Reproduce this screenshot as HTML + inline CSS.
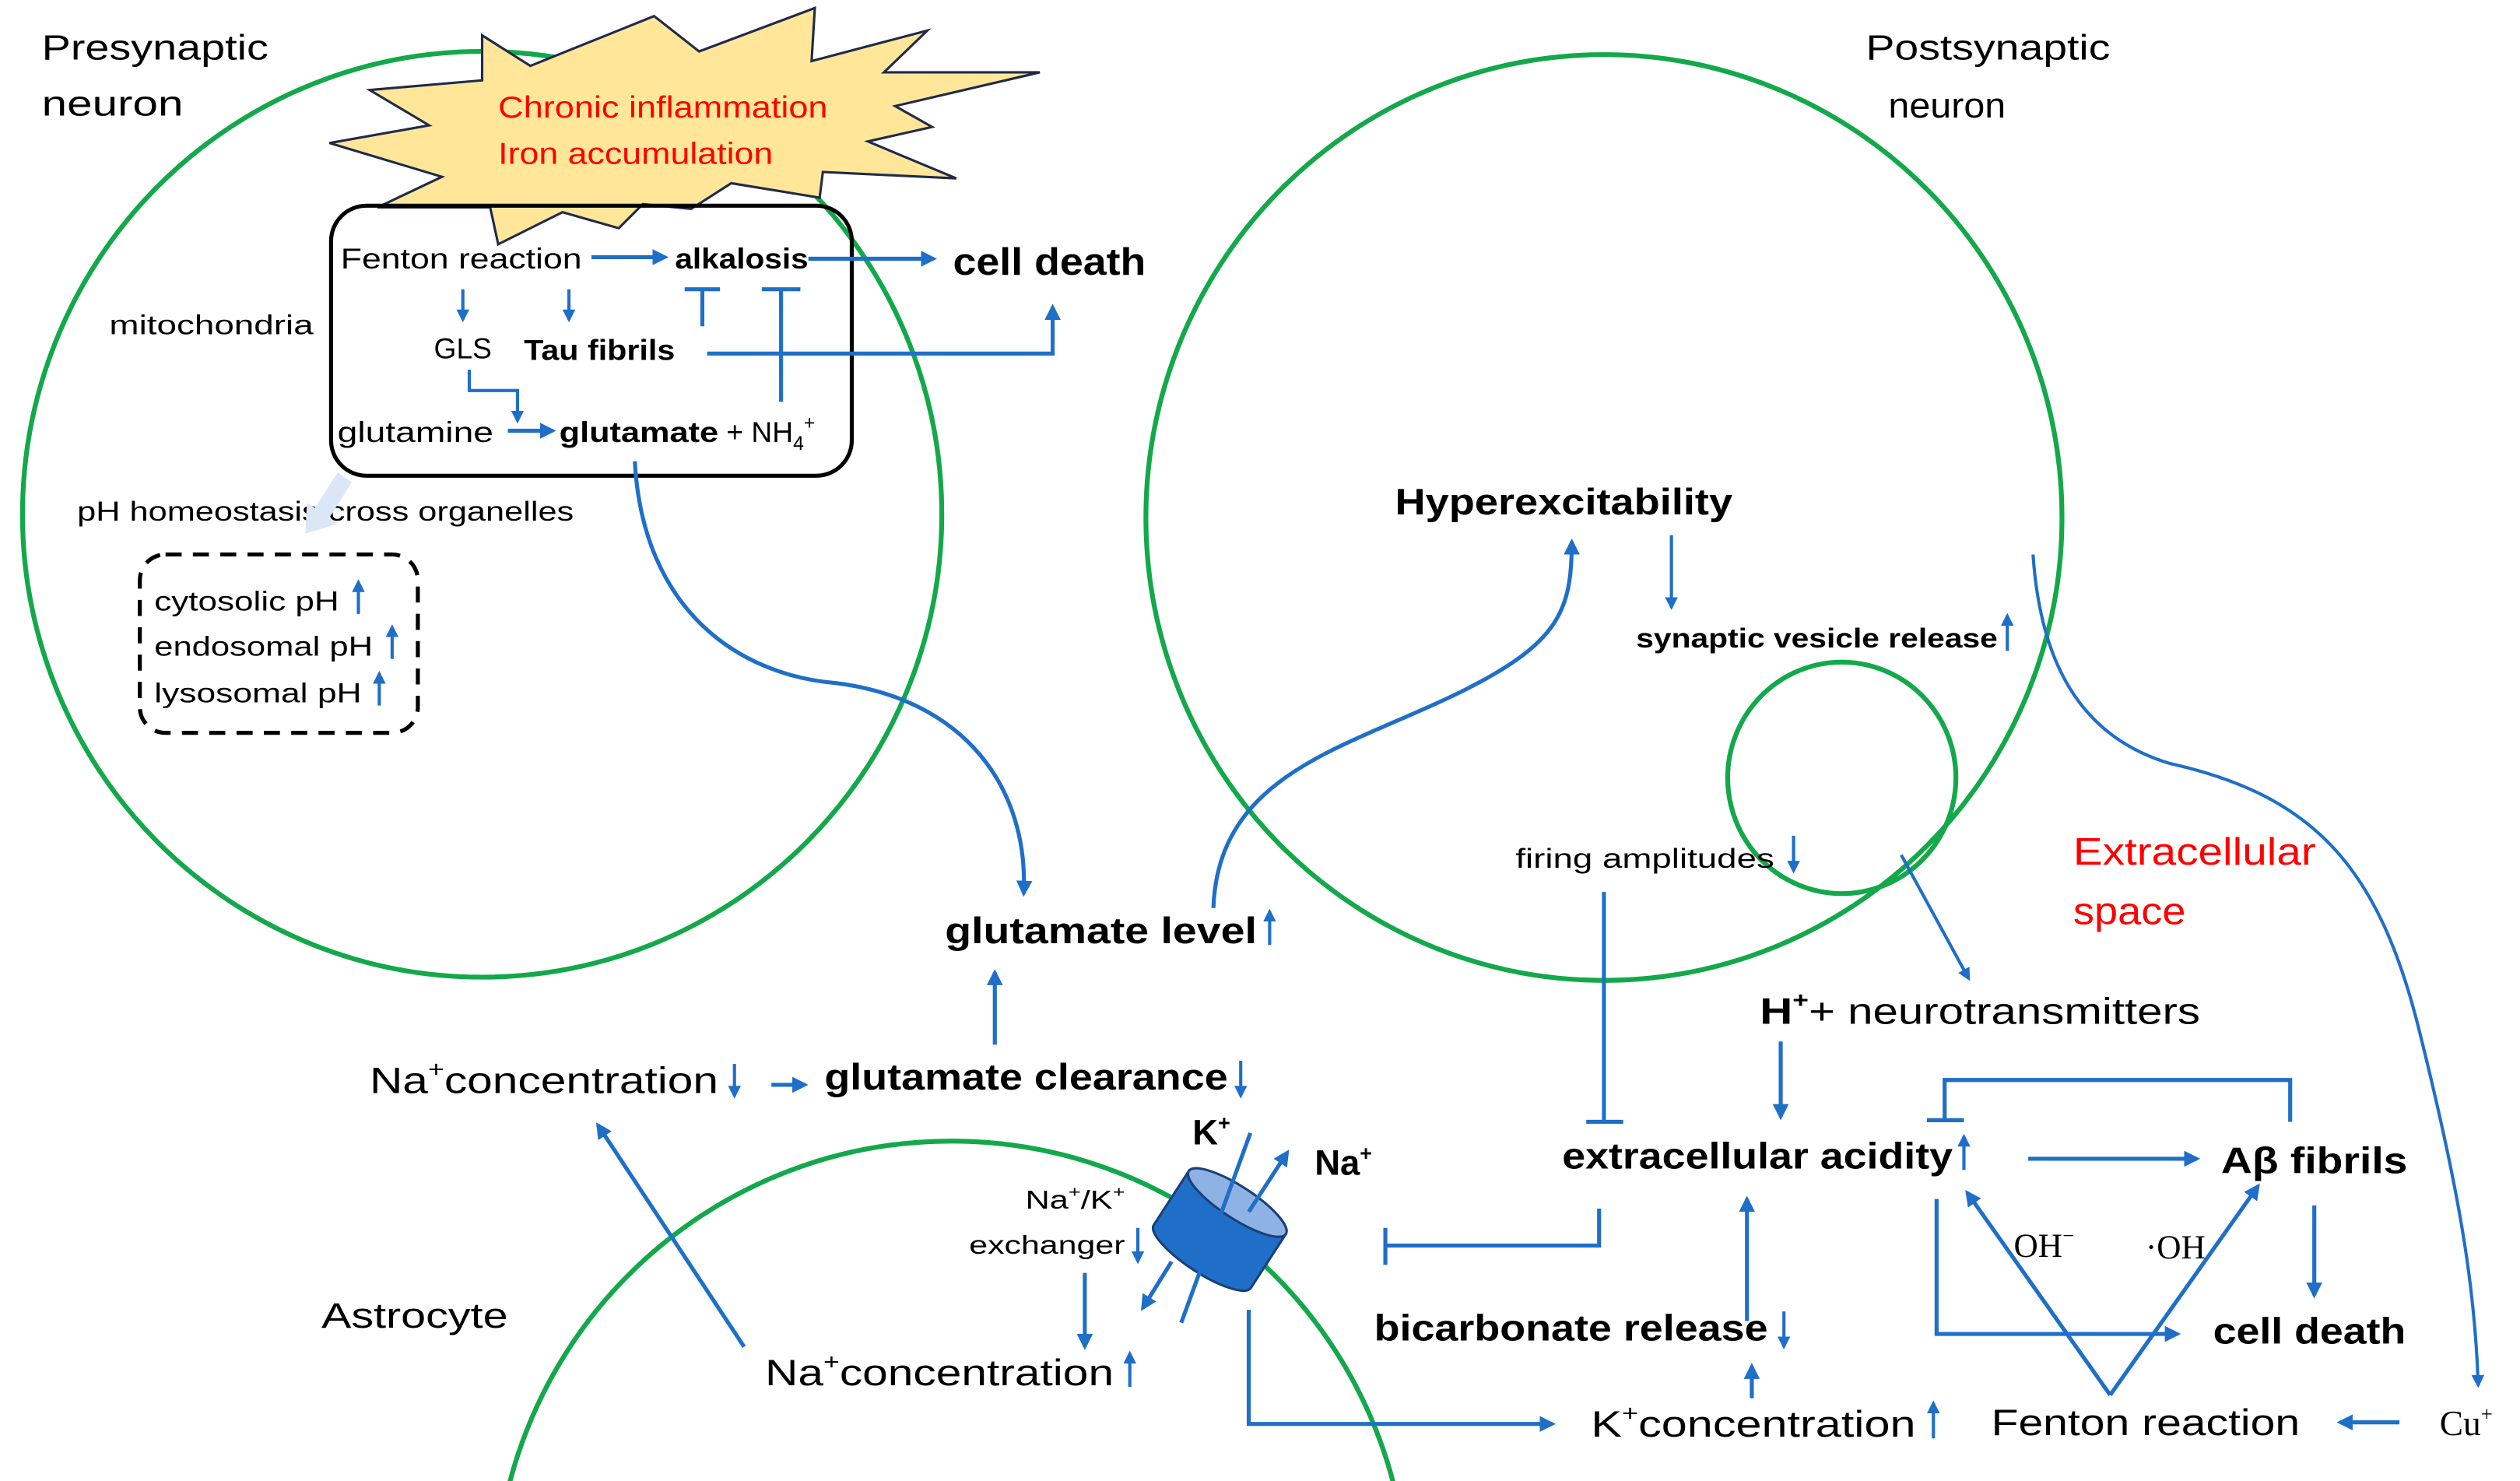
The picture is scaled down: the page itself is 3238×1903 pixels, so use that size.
<!DOCTYPE html>
<html><head><meta charset="utf-8"><style>
html,body{margin:0;padding:0;background:#fff;overflow:hidden;width:3238px;height:1903px;}
svg{display:block;}
text{font-family:"Liberation Sans",sans-serif;fill:#000;}
.b{font-weight:bold;}
.serif{font-family:"Liberation Serif",serif;}
</style></head><body>
<svg width="3238" height="1903" viewBox="0 0 1568 921.5" preserveAspectRatio="none" xmlns="http://www.w3.org/2000/svg">
<defs>
<marker id="a" viewBox="0 0 10 10" refX="8" refY="5" markerWidth="4" markerHeight="4" orient="auto" markerUnits="strokeWidth">
<path d="M0,0 L10,5 L0,10 z" fill="#1f6fc8"/></marker>
</defs>
<rect width="1568" height="921.5" fill="#fff"/>
<g fill="none" stroke="#13a84a" stroke-width="3">
<ellipse cx="300" cy="320" rx="286" ry="288"/>
<ellipse cx="998" cy="322" rx="285" ry="288"/>
<ellipse cx="1146" cy="484" rx="71" ry="72"/>
<circle cx="592" cy="994" r="284"/>
</g>
<polygon points="300,22 330,41 407,10 435,32 507,5 505,38 577,19 550,45 647,45 557,66 580,79 540,88 595,111 512,107 510,123 455,114 430,130 400,127 385,142 350,132 310,152 305,129 235,129 275,110 205,89 267,78 230,56 300,50" fill="#ffe699" stroke="#1f2a4a" stroke-width="1.5"/>
<text x="310" y="73" font-size="19" style="fill:#f00" textLength="205" lengthAdjust="spacingAndGlyphs">Chronic inflammation</text>
<text x="310" y="102" font-size="19" style="fill:#f00" textLength="171" lengthAdjust="spacingAndGlyphs">Iron accumulation</text>
<rect x="206" y="128" width="324" height="168" rx="22" fill="none" stroke="#000" stroke-width="2.5"/>
<text x="26" y="37" font-size="22" textLength="141" lengthAdjust="spacingAndGlyphs">Presynaptic</text>
<text x="26" y="72" font-size="22" textLength="88" lengthAdjust="spacingAndGlyphs">neuron</text>
<text x="1161" y="37" font-size="22" textLength="152" lengthAdjust="spacingAndGlyphs">Postsynaptic</text>
<text x="1175" y="73" font-size="22" textLength="73" lengthAdjust="spacingAndGlyphs">neuron</text>
<text x="212" y="167" font-size="18" textLength="150" lengthAdjust="spacingAndGlyphs">Fenton reaction</text>
<text x="420" y="167" font-size="18" class="b" textLength="83" lengthAdjust="spacingAndGlyphs">alkalosis</text>
<text x="593" y="171" font-size="24" class="b" textLength="120" lengthAdjust="spacingAndGlyphs">cell death</text>
<text x="68" y="208" font-size="17" textLength="127" lengthAdjust="spacingAndGlyphs">mitochondria</text>
<text x="270" y="223" font-size="18" textLength="36" lengthAdjust="spacingAndGlyphs">GLS</text>
<text x="326" y="224" font-size="18" class="b" textLength="94" lengthAdjust="spacingAndGlyphs">Tau fibrils</text>
<text x="210" y="275" font-size="18" textLength="97" lengthAdjust="spacingAndGlyphs">glutamine</text>
<text x="348" y="275" font-size="18" class="b" textLength="99" lengthAdjust="spacingAndGlyphs">glutamate</text>
<text x="452" y="275" font-size="18">+ NH<tspan font-size="12" dy="5">4</tspan><tspan font-size="12" dy="-13">+</tspan></text>
<text x="48" y="324" font-size="17" textLength="309" lengthAdjust="spacingAndGlyphs">pH homeostasis cross organelles</text>
<rect x="87" y="345" width="173" height="111" rx="16" fill="none" stroke="#000" stroke-width="2.5" stroke-dasharray="10,7"/>
<text x="96" y="380" font-size="17" textLength="115" lengthAdjust="spacingAndGlyphs">cytosolic pH</text>
<text x="96" y="408" font-size="17" textLength="136" lengthAdjust="spacingAndGlyphs">endosomal pH</text>
<text x="96" y="437" font-size="17" textLength="129" lengthAdjust="spacingAndGlyphs">lysosomal pH</text>
<polygon points="210,294 219,300 205,322 210,326 190,332 191,313 196,316" fill="#dbe7f7"/>
<text x="868" y="320" font-size="23" class="b" textLength="210" lengthAdjust="spacingAndGlyphs">Hyperexcitability</text>
<text x="1018" y="403" font-size="17" class="b" textLength="225" lengthAdjust="spacingAndGlyphs">synaptic vesicle release</text>
<text x="943" y="540" font-size="17" textLength="161" lengthAdjust="spacingAndGlyphs">firing amplitudes</text>
<text x="1290" y="538" font-size="24" style="fill:#f00" textLength="151" lengthAdjust="spacingAndGlyphs">Extracellular</text>
<text x="1290" y="575" font-size="24" style="fill:#f00" textLength="70" lengthAdjust="spacingAndGlyphs">space</text>
<text x="588" y="587" font-size="23" class="b" textLength="194" lengthAdjust="spacingAndGlyphs">glutamate level</text>
<text x="230" y="680" font-size="23" textLength="217" lengthAdjust="spacingAndGlyphs">Na<tspan font-size="14" dy="-10">+</tspan><tspan dy="10">concentration</tspan></text>
<text x="513" y="678" font-size="23" class="b" textLength="251" lengthAdjust="spacingAndGlyphs">glutamate clearance</text>
<text x="1095" y="637" font-size="23" textLength="274" lengthAdjust="spacingAndGlyphs"><tspan class="b">H</tspan><tspan font-size="14" dy="-10" class="b">+</tspan><tspan dy="10">+ neurotransmitters</tspan></text>
<text x="972" y="727" font-size="23" class="b" textLength="243" lengthAdjust="spacingAndGlyphs">extracellular acidity</text>
<text x="1382" y="730" font-size="23" class="b" textLength="116" lengthAdjust="spacingAndGlyphs">Aβ fibrils</text>
<text x="855" y="834" font-size="23" class="b" textLength="245" lengthAdjust="spacingAndGlyphs">bicarbonate release</text>
<text x="990" y="894" font-size="23" textLength="202" lengthAdjust="spacingAndGlyphs">K<tspan font-size="14" dy="-10">+</tspan><tspan dy="10">concentration</tspan></text>
<text x="1239" y="893" font-size="23" textLength="192" lengthAdjust="spacingAndGlyphs">Fenton reaction</text>
<text x="1377" y="836" font-size="23" class="b" textLength="120" lengthAdjust="spacingAndGlyphs">cell death</text>
<text x="200" y="826" font-size="22" textLength="116" lengthAdjust="spacingAndGlyphs">Astrocyte</text>
<text x="476" y="862" font-size="23" textLength="217" lengthAdjust="spacingAndGlyphs">Na<tspan font-size="14" dy="-10">+</tspan><tspan dy="10">concentration</tspan></text>
<text x="638" y="752" font-size="16" textLength="62" lengthAdjust="spacingAndGlyphs">Na<tspan font-size="10" dy="-7">+</tspan><tspan dy="7">/K</tspan><tspan font-size="10" dy="-7">+</tspan></text>
<text x="603" y="780" font-size="16" textLength="97" lengthAdjust="spacingAndGlyphs">exchanger</text>
<text x="742" y="712" font-size="22" class="b">K<tspan font-size="13" dy="-9">+</tspan></text>
<text x="818" y="731" font-size="22" class="b">Na<tspan font-size="13" dy="-9">+</tspan></text>
<text x="1518" y="893" font-size="22" class="serif">Cu<tspan font-size="13" dy="-9">+</tspan></text>
<text x="1253" y="782" font-size="21" class="serif">OH<tspan font-size="13" dy="-9">−</tspan></text>
<text x="1335" y="783" font-size="21" class="serif">·OH</text>
<g transform="translate(759,765) rotate(33)">
<path d="M-36,-20 L-36,20 A36,10 0 0 0 36,20 L36,-20 z" fill="#1f6fc8" stroke="#1a3f7a" stroke-width="1.5"/>
<ellipse cx="0" cy="-20" rx="36" ry="10" fill="#8fb2e4" stroke="#1a3f7a" stroke-width="1.5"/>
</g>
<g fill="none" stroke="#1f6fc8" stroke-width="2.5">
<line x1="368" y1="160" x2="414" y2="160" marker-end="url(#a)"/>
<line x1="503" y1="161" x2="581" y2="161" marker-end="url(#a)"/>
<line x1="288" y1="180" x2="288" y2="199" marker-end="url(#a)" stroke-width="2"/>
<line x1="354" y1="180" x2="354" y2="199" marker-end="url(#a)" stroke-width="2"/>
<path d="M437,203 V180 M426,180 H448"/>
<path d="M486,250 V180 M474,180 H498"/>
<path d="M440,220 H655 V191" marker-end="url(#a)"/>
<path d="M292,230 V243 H322 V262" marker-end="url(#a)" stroke-width="2"/>
<line x1="316" y1="268" x2="344" y2="268" marker-end="url(#a)"/>
<path d="M395,287 C400,380 460,420 520,425 C600,435 640,490 637,556" marker-end="url(#a)"/>
<line x1="223" y1="382" x2="223" y2="362" marker-end="url(#a)" stroke-width="2"/>
<line x1="244" y1="410" x2="244" y2="390" marker-end="url(#a)" stroke-width="2"/>
<line x1="236" y1="439" x2="236" y2="419" marker-end="url(#a)" stroke-width="2"/>
<path d="M755,565 C758,480 840,465 910,430 C970,400 978,380 978,337" marker-end="url(#a)"/>
<line x1="1040" y1="333" x2="1040" y2="378" marker-end="url(#a)" stroke-width="2"/>
<line x1="1249" y1="405" x2="1249" y2="383" marker-end="url(#a)" stroke-width="2"/>
<line x1="1116" y1="520" x2="1116" y2="542" marker-end="url(#a)" stroke-width="2"/>
<line x1="1183" y1="532" x2="1225" y2="609" marker-end="url(#a)" stroke-width="2"/>
<path d="M1265,345 C1270,420 1300,460 1350,475 C1440,495 1480,540 1505,640 C1530,740 1540,800 1542,862" marker-end="url(#a)" stroke-width="2"/>
<line x1="790" y1="588" x2="790" y2="567" marker-end="url(#a)" stroke-width="2"/>
<line x1="619" y1="650" x2="619" y2="605" marker-end="url(#a)"/>
<line x1="457" y1="662" x2="457" y2="682" marker-end="url(#a)" stroke-width="2"/>
<line x1="480" y1="675" x2="501" y2="675" marker-end="url(#a)"/>
<line x1="772" y1="660" x2="772" y2="682" marker-end="url(#a)" stroke-width="2"/>
<line x1="1108" y1="648" x2="1108" y2="695" marker-end="url(#a)"/>
<path d="M998,555 V698 M987,698 H1010"/>
<path d="M1425,698 V672 H1210 V697 M1199,697 H1222"/>
<line x1="1222" y1="728" x2="1222" y2="707" marker-end="url(#a)" stroke-width="2"/>
<line x1="1262" y1="721" x2="1367" y2="721" marker-end="url(#a)"/>
<path d="M995,752 V775 H862 M862,764 V787"/>
<line x1="1087" y1="822" x2="1087" y2="746" marker-end="url(#a)"/>
<line x1="1110" y1="816" x2="1110" y2="838" marker-end="url(#a)" stroke-width="2"/>
<line x1="1090" y1="870" x2="1090" y2="850" marker-end="url(#a)"/>
<line x1="1203" y1="895" x2="1203" y2="873" marker-end="url(#a)" stroke-width="2"/>
<path d="M777,815 V886 H966" marker-end="url(#a)"/>
<path d="M1205,746 V830 H1355" marker-end="url(#a)"/>
<path d="M1313,868 L1224,742" marker-end="url(#a)"/>
<path d="M1313,868 L1405,738" marker-end="url(#a)"/>
<line x1="1440" y1="750" x2="1440" y2="806" marker-end="url(#a)"/>
<line x1="1493" y1="885" x2="1456" y2="885" marker-end="url(#a)"/>
<line x1="703" y1="863" x2="703" y2="842" marker-end="url(#a)" stroke-width="2"/>
<line x1="463" y1="838" x2="372" y2="700" marker-end="url(#a)"/>
<line x1="708" y1="764" x2="708" y2="785" marker-end="url(#a)" stroke-width="2"/>
<line x1="675" y1="792" x2="675" y2="838" marker-end="url(#a)"/>
<line x1="778" y1="705" x2="735" y2="823"/>
<line x1="729" y1="785" x2="711" y2="814" marker-end="url(#a)"/>
<line x1="777" y1="754" x2="801" y2="717" marker-end="url(#a)"/>
</g>
</svg>
</body></html>
